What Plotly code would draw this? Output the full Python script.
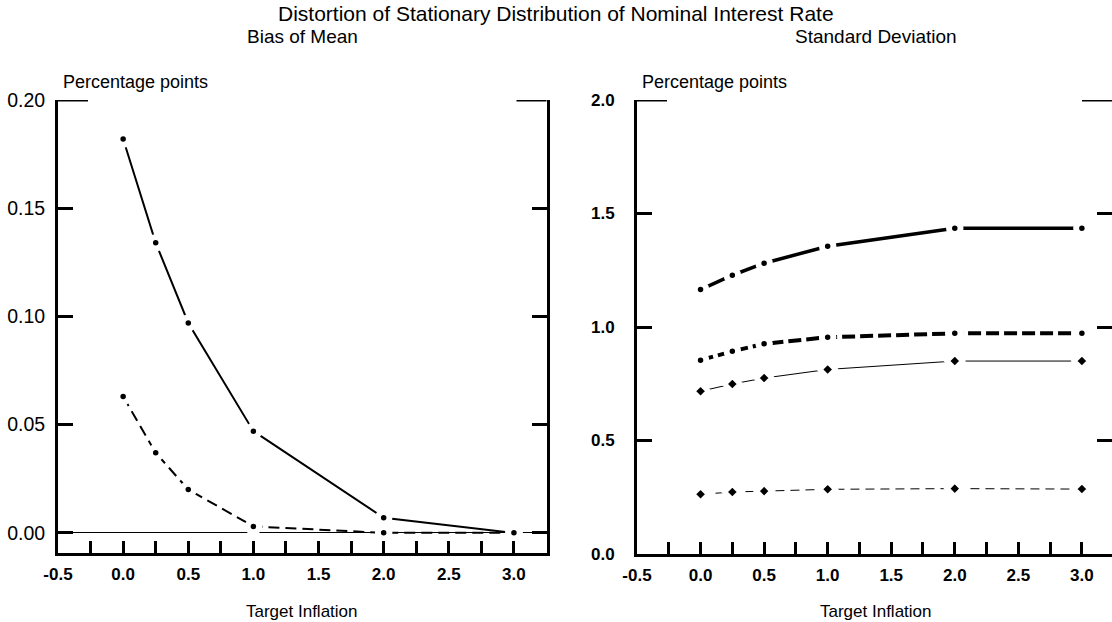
import plotly.graph_objects as go

# Target inflation grid (percent)
target_inflation = [0.0, 0.25, 0.5, 1.0, 2.0, 3.0]

# Bias of mean of the nominal rate (percentage points)
bias_mean_a = [0.182, 0.134, 0.097, 0.047, 0.007, 0.000]
bias_mean_b = [0.063, 0.037, 0.020, 0.003, 0.000, 0.000]

# Standard deviation of the nominal rate (percentage points)
sd_a = [1.165, 1.228, 1.281, 1.356, 1.435, 1.435]
sd_b = [0.854, 0.893, 0.926, 0.955, 0.972, 0.972]
sd_c = [0.717, 0.749, 0.775, 0.813, 0.850, 0.850]
sd_d = [0.263, 0.273, 0.277, 0.285, 0.288, 0.286]

x_ticks = [-0.5, 0.0, 0.5, 1.0, 1.5, 2.0, 2.5, 3.0]
y_ticks_left = [0.00, 0.05, 0.10, 0.15, 0.20]
y_ticks_right = [0.0, 0.5, 1.0, 1.5, 2.0]

FONT = "Liberation Sans, Arial, Helvetica, sans-serif"
W, H = 1112, 622

# panel geometry in pixels
L_X0, L_X1 = 58, 546.5
R_X0, R_X1 = 637, 1112
Y_TOP, Y_BOT_L, Y_BOT_R = 100, 553, 554


def px_x(p):
    return p / W


def px_y(p):
    return 1 - p / H


# markers carry a white rim so the connecting line stops short of each point
def dot(size=11.5, gap=6):
    return dict(symbol="circle", size=size, color="black",
                line=dict(color="white", width=gap))


def diamond(size=12, gap=5):
    return dict(symbol="diamond", size=size, color="black",
                line=dict(color="white", width=gap))


fig = go.Figure()

# left panel: bias of mean
fig.add_trace(go.Scatter(x=target_inflation, y=bias_mean_a, mode="lines+markers",
                         line=dict(color="black", width=2), marker=dot(),
                         xaxis="x", yaxis="y", showlegend=False))
fig.add_trace(go.Scatter(x=target_inflation, y=bias_mean_b, mode="lines+markers",
                         line=dict(color="black", width=2, dash="11px,6px"), marker=dot(),
                         xaxis="x", yaxis="y", showlegend=False))

# right panel: standard deviation
fig.add_trace(go.Scatter(x=target_inflation, y=sd_a, mode="lines+markers",
                         line=dict(color="black", width=3.5), marker=dot(),
                         xaxis="x2", yaxis="y2", showlegend=False))
fig.add_trace(go.Scatter(x=target_inflation, y=sd_b, mode="lines+markers",
                         line=dict(color="black", width=4, dash="13px,5px"), marker=dot(),
                         xaxis="x2", yaxis="y2", showlegend=False))
fig.add_trace(go.Scatter(x=target_inflation, y=sd_c, mode="lines+markers",
                         line=dict(color="black", width=1), marker=diamond(),
                         xaxis="x2", yaxis="y2", showlegend=False))
fig.add_trace(go.Scatter(x=target_inflation, y=sd_d, mode="lines+markers",
                         line=dict(color="black", width=1, dash="9px,6px"), marker=diamond(),
                         xaxis="x2", yaxis="y2", showlegend=False))
# carrier for the right-hand tick axis of the right panel
fig.add_trace(go.Scatter(x=[None], y=[None], xaxis="x2", yaxis="y3",
                         showlegend=False, hoverinfo="skip"))

common_x = dict(
    range=[-0.5, 3.25], tickvals=x_ticks, ticktext=[f"{v:.1f}" for v in x_ticks],
    ticks="inside", ticklen=12, tickwidth=2.5, tickcolor="black",
    minor=dict(ticks="inside", ticklen=12, tickwidth=2.5, tickcolor="black",
               dtick=0.25, tick0=-0.5, showgrid=False),
    showline=True, linewidth=3, linecolor="black", mirror=False,
    showgrid=False, zeroline=False, fixedrange=True, automargin=False,
    tickfont=dict(family=FONT, size=17, color="black", weight="bold"),
    ticklabelstandoff=4,
)

fig.update_layout(
    template="none",
    width=W, height=H, autosize=False,
    margin=dict(l=0, r=0, t=0, b=0, pad=0),
    paper_bgcolor="white", plot_bgcolor="white",
    xaxis=dict(common_x, domain=[px_x(L_X0), px_x(L_X1)], anchor="y"),
    yaxis=dict(
        domain=[px_y(Y_BOT_L), px_y(Y_TOP)], anchor="x", automargin=False,
        range=[-0.0093, 0.20], tickvals=y_ticks_left,
        ticktext=[f"{v:.2f}" for v in y_ticks_left],
        ticks="inside", ticklen=15, tickwidth=3, tickcolor="black",
        showline=True, linewidth=3, linecolor="black", mirror="ticks",
        showgrid=False, zeroline=True, zerolinecolor="black", zerolinewidth=1,
        tickfont=dict(family=FONT, size=19.5, color="black"),
        ticklabelstandoff=6,
    ),
    xaxis2=dict(common_x, domain=[px_x(R_X0), px_x(R_X1)], anchor="y2",
                range=[-0.5, 3.237]),
    yaxis2=dict(
        domain=[px_y(Y_BOT_R), px_y(Y_TOP)], anchor="x2", automargin=False,
        range=[0, 2.0], tickvals=y_ticks_right,
        ticktext=[f"{v:.1f}" for v in y_ticks_right],
        ticks="inside", ticklen=15, tickwidth=3, tickcolor="black",
        showline=True, linewidth=3, linecolor="black", mirror=False,
        showgrid=False, zeroline=False,
        tickfont=dict(family=FONT, size=17, color="black", weight="bold"),
        ticklabelstandoff=16,
    ),
    yaxis3=dict(
        overlaying="y2", anchor="x2", side="right", automargin=False,
        range=[0, 2.0], tickvals=y_ticks_right, showticklabels=False,
        ticks="inside", ticklen=15, tickwidth=3, tickcolor="black",
        showline=False, showgrid=False, zeroline=False,
    ),
)

# longer end ticks at the top of each vertical axis
LONG = 30
for xref, yref, ytop, width in (("x domain", "y", 0.20, L_X1 - L_X0),
                                ("x2 domain", "y2", 2.0, R_X1 - R_X0)):
    f = LONG / width
    for a, b in ((0, f), (1 - f, 1)):
        fig.add_shape(type="line", xref=xref, yref=yref, x0=a, x1=b, y0=ytop, y1=ytop,
                      line=dict(color="black", width=3))


def label(text, x, y, size, xanchor="center"):
    fig.add_annotation(text=text, x=x, y=y, xref="paper", yref="paper",
                       xanchor=xanchor, yanchor="middle", showarrow=False,
                       font=dict(family=FONT, size=size, color="black"))


label("Distortion of Stationary Distribution of Nominal Interest Rate", px_x(556), px_y(13), 21)
label("Bias of Mean", px_x((L_X0 + L_X1) / 2), px_y(37), 19)
label("Standard Deviation", px_x((R_X0 + 1114) / 2), px_y(37), 19)
label("Percentage points", px_x(61), px_y(82), 18, xanchor="left")
label("Percentage points", px_x(640), px_y(82), 18, xanchor="left")
label("Target Inflation", px_x((L_X0 + L_X1) / 2), px_y(611), 17)
label("Target Inflation", px_x((R_X0 + 1114) / 2), px_y(611), 17)

fig.write_html("out.html")
